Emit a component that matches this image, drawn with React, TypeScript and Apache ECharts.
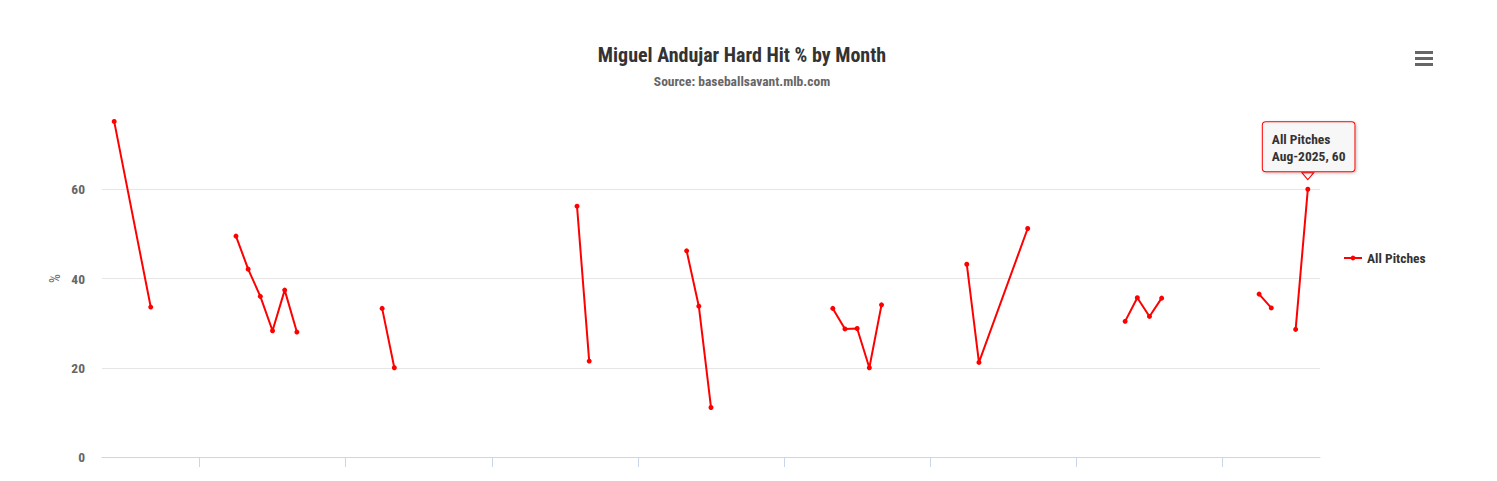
import React, { useEffect, useRef } from "react";
import * as echarts from "echarts";

const FONT = '"Roboto Condensed", "Liberation Sans Narrow", "DejaVu Sans Condensed", Roboto, sans-serif';

const titleText = "Miguel Andujar Hard Hit % by Month";
const subtitleText = "Source: baseballsavant.mlb.com";
const seriesName = "All Pitches";
const yAxisName = "%";

// Axis categories: every month from May-2017 to Sep-2025
const monthNames = ["Jan", "Feb", "Mar", "Apr", "May", "Jun", "Jul", "Aug", "Sep", "Oct", "Nov", "Dec"];
const years = [2017, 2018, 2019, 2020, 2021, 2022, 2023, 2024, 2025];
const firstMonth = "May-2017";
const lastMonth = "Sep-2025";

// Points (month, hard hit %); "-" marks a break in the line
const pointMonths = [
  "Jun-2017", "Sep-2017", "Dec-2017",
  "Apr-2018", "May-2018", "Jun-2018", "Jul-2018", "Aug-2018", "Sep-2018", "Dec-2018",
  "Apr-2019", "May-2019", "Dec-2019",
  "Aug-2020", "Sep-2020", "Dec-2020",
  "May-2021", "Jun-2021", "Jul-2021", "Dec-2021",
  "May-2022", "Jun-2022", "Jul-2022", "Aug-2022", "Sep-2022", "Dec-2022",
  "Apr-2023", "May-2023", "Sep-2023", "Dec-2023",
  "May-2024", "Jun-2024", "Jul-2024", "Aug-2024", "Dec-2024",
  "Apr-2025", "May-2025", "Jun-2025", "Jul-2025", "Aug-2025",
];
const hardHitPct: (number | string)[] = [
  75.2, 33.6, "-",
  49.5, 42.1, 36.0, 28.3, 37.4, 28.0, "-",
  33.3, 20.0, "-",
  56.2, 21.5, "-",
  46.2, 33.8, 11.1, "-",
  33.3, 28.7, 28.8, 20.0, 34.1, "-",
  43.2, 21.2, 51.2, "-",
  30.4, 35.7, 31.5, 35.6, "-",
  36.5, 33.4, "-", 28.6, 60,
];

const yTicks = [0, 20, 40, 60, 80];

function buildCategories(): string[] {
  const all: string[] = [];
  years.forEach((y) => monthNames.forEach((m) => all.push(`${m}-${y}`)));
  return all.slice(all.indexOf(firstMonth), all.indexOf(lastMonth) + 1);
}

export default function App() {
  const ref = useRef<HTMLDivElement>(null);

  useEffect(() => {
    if (!ref.current) return;
    const chart = echarts.init(ref.current, null, { renderer: "svg" });
    const categories = buildCategories();
    const data = pointMonths.map((m, i) => [m, hardHitPct[i]]);
    const tipMonth = pointMonths[pointMonths.length - 1];
    const tipValue = hardHitPct[hardHitPct.length - 1];

    chart.setOption({
      animation: false,
      backgroundColor: "#ffffff",
      title: {
        text: titleText,
        subtext: subtitleText,
        left: 737,
        top: 40,
        textAlign: "center",
        itemGap: 9,
        textStyle: { fontFamily: FONT, fontSize: 20, fontWeight: "bold", color: "#333333" },
        subtextStyle: { fontFamily: FONT, fontSize: 13.5, fontWeight: "bold", color: "#666666" },
      },
      legend: {
        orient: "vertical",
        left: 1338,
        top: 246,
        data: [seriesName],
        itemWidth: 18,
        itemHeight: 6,
        textStyle: { fontFamily: FONT, fontSize: 13.5, fontWeight: "bold", color: "#333333" },
      },
      grid: { left: 102, right: 177, top: 100, bottom: 24 },
      xAxis: {
        type: "category",
        data: categories,
        boundaryGap: false,
        axisLine: { show: true, lineStyle: { color: "#ccd6eb", width: 1 } },
        axisTick: {
          show: true,
          length: 10,
          interval: (idx: number, val: string) => val.startsWith("Jan"),
          lineStyle: { color: "#ccd6eb" },
        },
        axisLabel: { show: false },
        splitLine: { show: false },
      },
      yAxis: {
        type: "value",
        min: yTicks[0],
        max: yTicks[yTicks.length - 1],
        interval: 20,
        name: yAxisName,
        nameLocation: "middle",
        nameGap: 40,
        nameMoveOverlap: false,
        nameTextStyle: { fontFamily: FONT, fontSize: 14, color: "#666666" },
        axisLine: { show: false },
        axisTick: { show: false },
        axisLabel: {
          margin: 17,
          fontFamily: FONT,
          fontSize: 13.5,
          fontWeight: "bold",
          color: "#666666",
          formatter: (v: number) => (v === yTicks[yTicks.length - 1] ? "" : String(v)),
        },
        splitLine: {
          show: true,
          lineStyle: { color: ["#e6e6e6", "#e6e6e6", "#e6e6e6", "#e6e6e6", "rgba(0,0,0,0)"], width: 1 },
        },
      },
      series: [
        {
          name: seriesName,
          type: "line",
          data,
          connectNulls: false,
          symbol: "circle",
          symbolSize: 5,
          showSymbol: true,
          color: "#ff0000",
          lineStyle: { color: "#ff0000", width: 2 },
          itemStyle: { color: "#ff0000" },
          markPoint: {
            symbol: "path://M0 0L12 0L6 7Z",
            symbolSize: [12, 7],
            symbolOffset: [0, -13],
            itemStyle: { color: "#f7f7f7", borderColor: "#ff0000", borderWidth: 1 },
            label: {
              show: true,
              position: "top",
              distance: -1,
              align: "left",
              offset: [-45, -2],
              formatter: `${seriesName}\n${tipMonth}, ${tipValue}`,
              fontFamily: FONT,
              fontSize: 13.5,
              fontWeight: "bold",
              color: "#333333",
              lineHeight: 17,
              backgroundColor: "#f7f7f7",
              borderColor: "#ff0000",
              borderWidth: 1,
              borderRadius: 3,
              padding: [8, 9, 7, 9],
              shadowColor: "rgba(0,0,0,0.25)",
              shadowBlur: 3,
              shadowOffsetX: 1,
              shadowOffsetY: 1,
            },
            data: [{ coord: [tipMonth, tipValue] }],
          },
        },
      ],
      graphic: [
        {
          type: "group",
          left: 1415,
          top: 51,
          children: [
            { type: "rect", shape: { x: 0, y: 0, width: 18, height: 3 }, style: { fill: "#666666" } },
            { type: "rect", shape: { x: 0, y: 6, width: 18, height: 3 }, style: { fill: "#666666" } },
            { type: "rect", shape: { x: 0, y: 12, width: 18, height: 3 }, style: { fill: "#666666" } },
          ],
        },
      ],
    });

    return () => chart.dispose();
  }, []);

  return (
    <div
      ref={ref}
      style={{ position: "absolute", left: 0, top: 0, width: 1497, height: 481 }}
    />
  );
}
